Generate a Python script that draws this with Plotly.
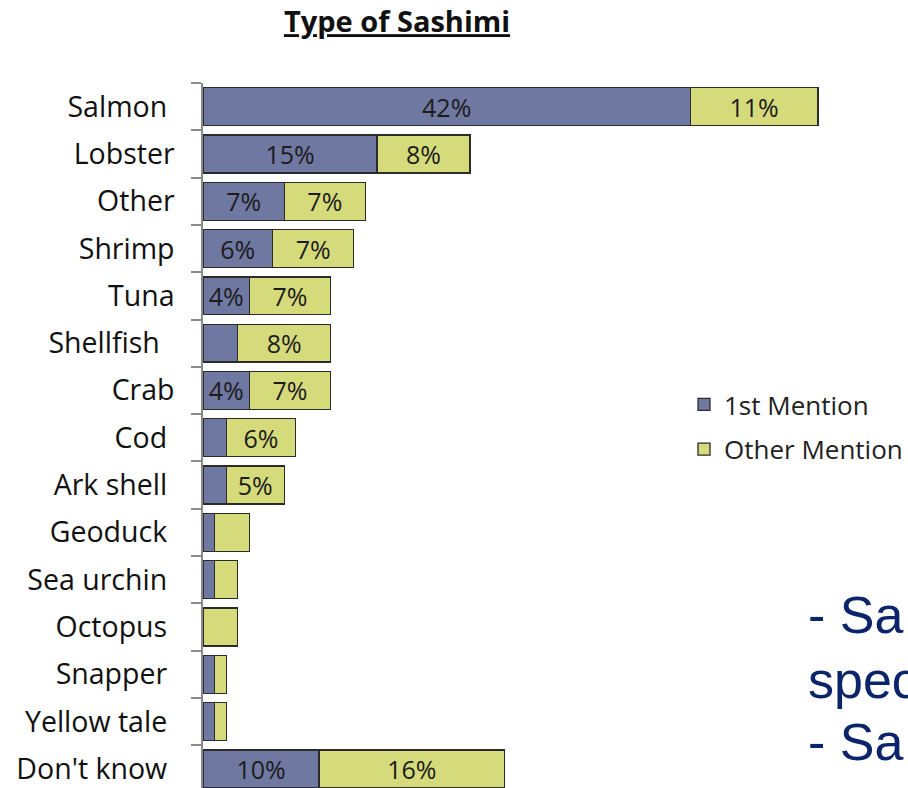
import plotly.graph_objects as go

categories = ["Salmon\u00a0", "Lobster", "Other", "Shrimp", "Tuna", "Shellfish\u00a0\u00a0", "Crab",
              "Cod\u00a0", "Ark shell\u00a0", "Geoduck\u00a0", "Sea urchin\u00a0", "Octopus\u00a0",
              "Snapper\u00a0", "Yellow tale\u00a0", "Don't know\u00a0"]
first_mention = [42, 15, 7, 6, 4, 3, 4, 2, 2, 1, 1, 0, 1, 1, 10]
other_mention = [11, 8, 7, 7, 7, 8, 7, 6, 5, 3, 2, 3, 1, 1, 16]
series_names = ["1st Mention", "Other Mention"]
title_text = "Type of Sashimi"
side_lines = ["- Sa", "spec", "- Sa"]

FONT = "Open Sans"
C1 = "#6F78A1"
C2 = "#D5DB7B"
EDGE = "#2b2b2b"

def lab(vals):
    return [f"{v}%" if v >= 4 else "" for v in vals]

fig = go.Figure()
for name, vals, col, grp in [(series_names[0], first_mention, C1, "a"),
                             (series_names[1], other_mention, C2, "b")]:
    fig.add_trace(go.Bar(
        y=categories, x=vals, name=name, orientation="h",
        marker=dict(color=col, line=dict(color=EDGE, width=1.3)),
        text=lab(vals), textposition="inside", insidetextanchor="middle",
        textangle=0, constraintext="none",
        textfont=dict(family=FONT, size=25, color="#1c1c1c"),
        legendgroup=grp,
    ))

# plot area geometry
L, T, W, H = 203, 83, 908, 788
R = 7
pw = W - L - R
ph = H - T

def px_x(x):
    return (x - L) / pw

def px_y(y):
    return (H - y) / ph

for txt, yc in zip(side_lines, [615, 680, 742]):
    fig.add_annotation(text=txt, xref="paper", yref="paper", x=px_x(809), y=px_y(yc),
                       xanchor="left", yanchor="middle", showarrow=False,
                       font=dict(family="Liberation Sans", size=52, color="#0B246A"))

fig.update_layout(
    width=W, height=H,
    margin=dict(l=L, r=R, t=T, b=0, pad=0),
    barmode="stack", bargap=0.2,
    paper_bgcolor="white", plot_bgcolor="white",
    title=dict(text=f"<b><u>{title_text}</u></b>", x=397 / W, xanchor="center",
               y=1 - 22 / H, yanchor="middle", xref="container", yref="container",
               font=dict(family=FONT, size=29, color="#111111")),
    showlegend=True,
    legend=dict(x=px_x(687), y=px_y(381), xanchor="left", yanchor="top",
                traceorder="grouped", tracegroupgap=8,
                font=dict(family=FONT, size=26, color="#222222"),
                bgcolor="rgba(0,0,0,0)"),
    font=dict(family=FONT),
)
fig.update_xaxes(range=[0, pw / 11.67], visible=False, showgrid=False, zeroline=False)
fig.update_yaxes(categoryorder="array", categoryarray=categories,
                 range=[-0.5 + ph / 47.3, -0.5], showgrid=False, zeroline=False,
                 showline=True, linecolor="#8a8a8a", linewidth=1.5,
                 ticks="outside", ticklen=10, tickcolor="#8a8a8a", tickwidth=1.5,
                 tickson="boundaries", ticklabelstandoff=21,
                 tickfont=dict(family=FONT, size=28.5, color="#111111"))

fig.write_html("out.html", config={"displayModeBar": False},
               post_script="document.body.style.margin='0';document.body.style.overflow='hidden';")
